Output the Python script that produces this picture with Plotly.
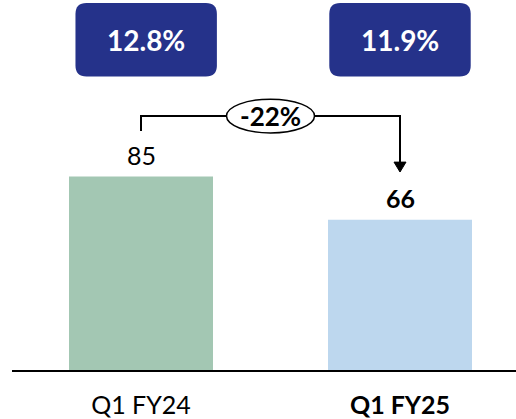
import plotly.graph_objects as go

# ---- data ----
categories = ["Q1 FY24", "Q1 FY25"]
tick_labels = ["Q1 FY24", "<b>Q1 FY25</b>"]
values = [85, 66]
value_labels = ["85", "<b>66</b>"]
margin_labels = ["12.8%", "11.9%"]
change_label = "-22%"

bar_colors = ["#A3C7B3", "#BDD7EE"]
navy = "#25328A"
FONT = "Lato"

W, H = 516, 419
ML, MB = 12, 46
plot_w = W - ML
plot_h = H - MB
px_per_x = 259.0
x0 = -(141 - ML) / px_per_x
x1 = x0 + plot_w / px_per_x
y_max = 162.6
px_per_y = plot_h / y_max

xi = list(range(len(categories)))

fig = go.Figure()
fig.add_trace(go.Bar(
    x=xi, y=values, marker=dict(color=bar_colors, line=dict(width=0)),
    width=0.556, hoverinfo="skip",
))

def rrect(xa, xb, ya, yb, rpx):
    rx = rpx / px_per_x
    ry = rpx / px_per_y
    return (f"M {xa+rx},{ya} L {xb-rx},{ya} Q {xb},{ya} {xb},{ya+ry} "
            f"L {xb},{yb-ry} Q {xb},{yb} {xb-rx},{yb} L {xa+rx},{yb} "
            f"Q {xa},{yb} {xa},{yb-ry} L {xa},{ya+ry} Q {xa},{ya} {xa+rx},{ya} Z")

shapes = []
annotations = []

# margin boxes
box_dx = [0.02, 0.0]
box_half = 0.273
box_y0, box_y1 = 129.0, 161.3
for i, lab in enumerate(margin_labels):
    c = xi[i] + box_dx[i]
    shapes.append(dict(type="path", xref="x", yref="y",
                       path=rrect(c - box_half, c + box_half, box_y0, box_y1, 11),
                       fillcolor=navy, line=dict(width=0), layer="above"))
    annotations.append(dict(x=c, y=(box_y0 + box_y1) / 2, xref="x", yref="y",
                            text=f"<b>{lab}</b>", showarrow=False,
                            font=dict(family=FONT, size=28, color="white")))

# value labels
for i, v in enumerate(values):
    annotations.append(dict(x=xi[i], y=v, xref="x", yref="y", text=value_labels[i],
                            showarrow=False, yanchor="middle", yshift=22,
                            font=dict(family=FONT, size=25, color="black")))

# connector
y_start = values[0] + 20
y_top = max(values) + 26.6
y_tip = values[1] + 21
head_h = 10 / px_per_y
head_hw = 6 / px_per_x
shapes.append(dict(type="path", xref="x", yref="y",
                   path=f"M {xi[0]},{y_start} L {xi[0]},{y_top} L {xi[1]},{y_top} L {xi[1]},{y_tip + head_h}",
                   line=dict(color="black", width=2)))
shapes.append(dict(type="path", xref="x", yref="y",
                   path=f"M {xi[1]-head_hw},{y_tip + head_h} L {xi[1]+head_hw},{y_tip + head_h} L {xi[1]},{y_tip} Z",
                   fillcolor="black", line=dict(color="black", width=1)))
# ellipse
mid = (xi[0] + xi[1]) / 2
ew = 44 / px_per_x
eh = 17 / px_per_y
shapes.append(dict(type="circle", xref="x", yref="y",
                   x0=mid - ew, x1=mid + ew, y0=y_top - eh, y1=y_top + eh,
                   fillcolor="white", line=dict(color="black", width=1.5)))
annotations.append(dict(x=mid, y=y_top, xref="x", yref="y", text=f"<b>{change_label}</b>",
                        showarrow=False, font=dict(family=FONT, size=26, color="black")))

fig.update_layout(
    width=W, height=H,
    margin=dict(l=ML, r=0, t=0, b=MB),
    paper_bgcolor="white", plot_bgcolor="white",
    showlegend=False,
    shapes=shapes, annotations=annotations,
    xaxis=dict(range=[x0, x1], tickmode="array", tickvals=xi, ticktext=tick_labels,
               showline=True, linecolor="black", linewidth=2, showgrid=False,
               zeroline=False, ticks="", ticklabelstandoff=12,
               tickfont=dict(family=FONT, size=25, color="black"), fixedrange=True),
    yaxis=dict(range=[0, y_max], visible=False, fixedrange=True),
)

fig.write_html("out.html", config={"displayModeBar": False},
               post_script="document.body.style.margin='0';document.body.style.overflow='hidden';")
